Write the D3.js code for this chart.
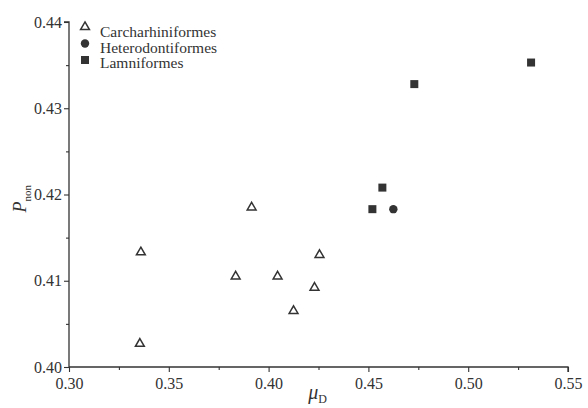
<!DOCTYPE html>
<html>
<head>
<meta charset="utf-8">
<script src="https://cdn.jsdelivr.net/npm/d3@7"></script>
<style>
	body {margin: 0; background: #fff;}
	text {font-family: "Liberation Serif", "DejaVu Serif", serif; fill: #333;}
</style>
</head>
<body>
<svg id="chart" width="588" height="408"></svg>
<script>
// P_non against mu_D, three orders of sharks

var carch_x = [0.336, 0.3355, 0.3915, 0.3835, 0.4045, 0.4125, 0.423, 0.4255];
var carch_y = [0.4133, 0.4027, 0.4185, 0.4105, 0.4105, 0.4065, 0.4092, 0.4130];
var hetero_x = [0.4625];
var hetero_y = [0.4183];
var lamni_x = [0.452, 0.457, 0.473, 0.5315];
var lamni_y = [0.4183, 0.4208, 0.4328, 0.4353];

var x_ticks = [0.30, 0.35, 0.40, 0.45, 0.50, 0.55];
var y_ticks = [0.40, 0.41, 0.42, 0.43, 0.44];
var legend_names = ['Carcharhiniformes', 'Heterodontiformes', 'Lamniformes'];

var ink = '#333';
var svg = d3.select('#chart');

var x_scale = d3.scaleLinear().domain([0.30, 0.55]).range([69, 568]);
var y_scale = d3.scaleLinear().domain([0.40, 0.44]).range([367, 22]);

function pairs(xs, ys) {
	return xs.map(function (d, i) {return [d, ys[i]];});
}

// axes, major then minor ticks
var x_axis = d3.axisBottom(x_scale).tickValues(x_ticks).tickFormat(d3.format('.2f')).tickSize(5).tickPadding(6);
var y_axis = d3.axisLeft(y_scale).tickValues(y_ticks).tickFormat(d3.format('.2f')).tickSize(5).tickPadding(2);

var gx = svg.append('g').attr('transform', 'translate(0,' + y_scale(0.40) + ')').call(x_axis);
var gy = svg.append('g').attr('transform', 'translate(' + x_scale(0.30) + ',0)').call(y_axis);

var x_minor = d3.range(0.325, 0.55, 0.05);
var y_minor = d3.range(0.405, 0.44, 0.01);
gx.append('g').call(d3.axisBottom(x_scale).tickValues(x_minor).tickFormat('').tickSize(3))
	.select('.domain').remove();
gy.append('g').call(d3.axisLeft(y_scale).tickValues(y_minor).tickFormat('').tickSize(3))
	.select('.domain').remove();

[gx, gy].forEach(function (g) {
	g.selectAll('.domain').attr('stroke', ink).attr('stroke-width', 1.3);
	g.selectAll('line').attr('stroke', ink).attr('stroke-width', 1.1);
	g.selectAll('text').attr('font-size', 16).attr('fill', ink)
		.style('font-family', '"Liberation Serif", serif');
});
gx.selectAll('.domain').attr('d', 'M' + x_scale(0.30) + ',0H' + x_scale(0.55) + 'V5');
gy.selectAll('.domain').attr('d', 'M-5,' + y_scale(0.44) + 'H0V' + y_scale(0.40));

// axis titles
svg.append('text')
	.attr('x', x_scale(0.4245)).attr('y', 399)
	.attr('text-anchor', 'middle').attr('font-size', 20)
	.html('<tspan font-style="italic">\u03bc</tspan><tspan font-size="12" dy="4">D</tspan>');

svg.append('text')
	.attr('transform', 'translate(26,' + y_scale(0.4195) + ') rotate(-90)')
	.attr('text-anchor', 'middle').attr('font-size', 18)
	.html('<tspan font-style="italic">P</tspan><tspan font-size="11" dy="5">non</tspan>');

// marks
var tri = d3.symbol().type(d3.symbolTriangle).size(34);

svg.append('g').selectAll('path')
	.data(pairs(carch_x, carch_y)).enter().append('path')
	.attr('d', tri)
	.attr('transform', function (d) {return 'translate(' + x_scale(d[0]) + ',' + y_scale(d[1]) + ')';})
	.attr('fill', 'none').attr('stroke', ink).attr('stroke-width', 1.5);

svg.append('g').selectAll('circle')
	.data(pairs(hetero_x, hetero_y)).enter().append('circle')
	.attr('cx', function (d) {return x_scale(d[0]);})
	.attr('cy', function (d) {return y_scale(d[1]);})
	.attr('r', 4.2).attr('fill', ink);

svg.append('g').selectAll('rect')
	.data(pairs(lamni_x, lamni_y)).enter().append('rect')
	.attr('x', function (d) {return x_scale(d[0]) - 4;})
	.attr('y', function (d) {return y_scale(d[1]) - 4;})
	.attr('width', 8).attr('height', 8).attr('fill', ink);

// legend
var legend = svg.append('g').attr('transform', 'translate(85,27)');
legend.append('path').attr('d', tri).attr('fill', 'none').attr('stroke', ink).attr('stroke-width', 1.5);
legend.append('circle').attr('cy', 16.5).attr('r', 4.2).attr('fill', ink);
legend.append('rect').attr('x', -4).attr('y', 29).attr('width', 8).attr('height', 8).attr('fill', ink);
legend.selectAll('text')
	.data(legend_names).enter().append('text')
	.attr('x', 15).attr('y', function (d, i) {return 10 + i * 15.5;})
	.attr('font-size', 15.5).attr('fill', ink)
	.text(function (d) {return d;});
</script>
</body>
</html>
